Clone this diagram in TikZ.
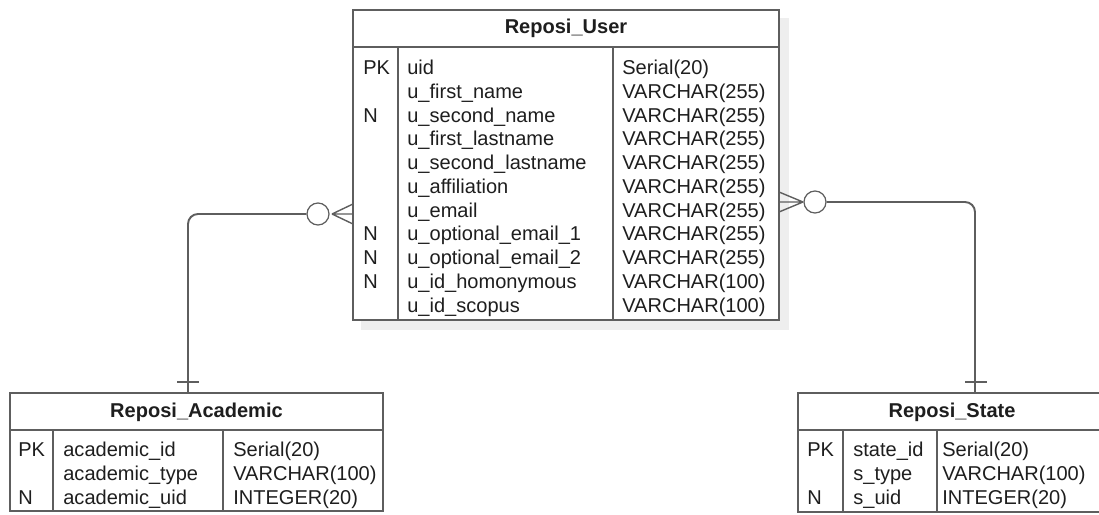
\documentclass[tikz,border=0pt]{standalone}
\usepackage{fontspec}
\setmainfont{Liberation Sans}
\usepackage{tikz}
\definecolor{gray700}{HTML}{5E5E5E}
\definecolor{gray100}{HTML}{EEEEEE}
\definecolor{gray900}{HTML}{1E1E1E}
\tikzstyle{tabla}=[rectangle, draw=gray700, fill=white, line width=1.1pt, inner sep=0pt, outer sep=0pt]
\tikzstyle{linea}=[draw=gray700, line width=1.1pt]
\tikzstyle{pata}=[draw=gray700, line width=0.8pt]
\tikzstyle{titulo}=[anchor=base, inner sep=0pt, text=gray900, font=\fontsize{11.4}{13.5}\selectfont\bfseries]
\tikzstyle{campo}=[anchor=base west, align=left, inner sep=0pt, text=gray900, font=\fontsize{11.4}{13.5}\selectfont]
\tikzstyle{cero}=[circle, draw=gray700, fill=white, line width=0.7pt, minimum size=0.44cm, inner sep=0pt]

\begin{document}
\begin{tikzpicture}[x=0.02cm, y=-0.02cm]
	\useasboundingbox (0,0) rectangle (1099,514);
	\fill[gray100] (361,18) rectangle (789,330);
	\node[tabla, minimum width=8.52cm, minimum height=6.2cm] (user) at (566,165) {};
	\node[tabla, minimum width=7.46cm, minimum height=2.36cm] (acad) at (196.5,452) {};
	\node[tabla, minimum width=6.16cm, minimum height=2.38cm] (state) at (952,452.5) {};
	\path[linea] (353,47) -- (779,47) (398,47) -- (398,320) (613,47) -- (613,320);
	\path[linea] (10,430) -- (383,430) (53,430) -- (53,511) (223,430) -- (223,511);
	\path[linea] (798,430) -- (1106,430) (843,430) -- (843,512) (937,430) -- (937,512);

	\node[titulo] (userT) at (566,33.5) {Reposi\_User};
	\node[campo] (userK) at (363,312) {PK\\{}\\N\\{}\\{}\\{}\\{}\\N\\N\\N\\{}};
	\node[campo] (userF) at (407,312) {uid\\u\_first\_name\\u\_second\_name\\u\_first\_lastname\\u\_second\_lastname\\u\_affiliation\\u\_email\\u\_optional\_email\_1\\u\_optional\_email\_2\\u\_id\_homonymous\\u\_id\_scopus};
	\node[campo] (userD) at (622,312) {Serial(20)\\VARCHAR(255)\\VARCHAR(255)\\VARCHAR(255)\\VARCHAR(255)\\VARCHAR(255)\\VARCHAR(255)\\VARCHAR(255)\\VARCHAR(255)\\VARCHAR(100)\\VARCHAR(100)};

	\node[titulo] (acadT) at (196.5,417) {Reposi\_Academic};
	\node[campo] (acadK) at (18,504) {PK\\{}\\N};
	\node[campo] (acadF) at (63,504) {academic\_id\\academic\_type\\academic\_uid};
	\node[campo] (acadD) at (233,504) {Serial(20)\\VARCHAR(100)\\INTEGER(20)};

	\node[titulo] (stateT) at (952,417) {Reposi\_State};
	\node[campo] (stateK) at (807,504) {PK\\{}\\N};
	\node[campo] (stateF) at (853,504) {state\_id\\s\_type\\s\_uid};
	\node[campo] (stateD) at (942,504) {Serial(20)\\VARCHAR(100)\\INTEGER(20)};

	\node[cero] (oL) at (318,214) {};
	\node[cero] (oR) at (815,202) {};
	\coordinate (pL) at (332,214);
	\coordinate (pR) at (803,202);
	\coordinate (aTop) at (188,393);
	\coordinate (sTop) at (975,393);
	\path[linea, rounded corners=0.2cm] (oL.west) -| (aTop);
	\path[linea, rounded corners=0.2cm] (oR.east) -| (sTop);
	\path[pata] (user.west |- pL) -- (pL) (353,204) -- (pL) (353,224) -- (pL);
	\path[pata] (user.east |- pR) -- (pR) (779,192) -- (pR) (779,212) -- (pR);
	\path[linea] (177,382) -- (199,382) (965,382) -- (987,382);
\end{tikzpicture}
\end{document}
